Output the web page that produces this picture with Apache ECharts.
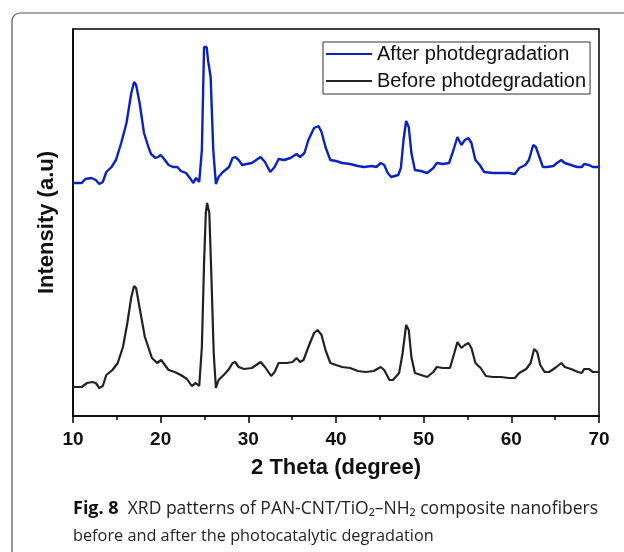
<!DOCTYPE html>
<html>
<head>
<meta charset="utf-8">
<script src="https://cdn.jsdelivr.net/npm/echarts@6/dist/echarts.min.js"></script>
<style>html,body{margin:0;padding:0;background:#fff}#c{width:624px;height:552px}</style>
</head>
<body>
<div id="c"></div>
<script>
const seriesNames = ['After photdegradation', 'Before photdegradation'];
const xTicks = [10, 20, 30, 40, 50, 60, 70];

const afterTheta = [10.0,11.0,11.4,12.1,12.6,13.0,13.4,13.8,14.4,14.9,15.5,16.1,16.65,16.97,17.2,17.6,18.1,18.6,18.9,19.4,19.7,20.0,20.4,20.9,21.4,21.9,22.3,22.9,23.5,23.7,24.05,24.4,24.7,24.95,25.25,25.4,25.6,25.7,25.85,26.0,26.3,26.6,27.1,27.8,28.2,28.5,28.9,29.3,29.8,30.4,30.9,31.4,31.9,32.5,33.0,33.45,34.1,34.8,35.5,35.9,36.4,36.85,37.5,38.0,38.35,38.8,39.35,40.0,40.7,41.6,42.5,43.2,44.1,44.6,45.1,45.5,45.9,46.3,47.1,47.4,47.7,48.0,48.3,48.6,49.0,49.7,50.4,51.1,51.5,52.2,52.9,53.4,53.85,54.3,54.7,55.1,55.45,55.9,56.4,56.9,57.9,58.8,59.7,60.4,60.9,61.6,62.0,62.5,62.8,63.2,63.6,64.1,64.8,65.2,65.7,66.1,66.8,67.5,68.05,68.3,68.85,69.3,70.0];
const afterIntensity = [233,233,237,238,236,232,234,244,249,256,273,293,323,334,331,313,283,269,262,258,259,261,257,251,249,249,245,243,236,233,238,234,266,369,369,356,354,339,339,266,232,239,244,249,258,259,256,251,252,253,256,259,254,244,249,257,256,258,262,259,263,276,288,290,284,269,256,255,253,252,250,249,250,249,253,251,243,239,241,248,276,295,289,263,246,245,243,248,253,252,253,266,279,271,276,278,273,256,251,244,243,243,243,242,248,251,256,271,269,259,249,249,250,253,256,253,251,249,249,252,251,249,249];

const beforeTheta = [10.0,11.0,11.6,12.2,12.6,13.0,13.4,13.8,14.5,15.1,15.7,16.2,16.65,16.97,17.2,17.6,18.2,18.7,19.0,19.6,20.05,20.4,20.9,21.6,22.3,23.0,23.55,24.0,24.4,24.7,24.95,25.15,25.3,25.55,25.8,26.05,26.3,26.6,27.3,27.8,28.2,28.5,28.9,29.5,30.4,30.9,31.4,31.9,32.6,33.0,33.45,34.4,35.05,35.5,35.9,36.3,36.85,37.5,37.9,38.35,38.8,39.35,40.0,40.7,41.6,42.5,43.4,44.3,45.1,45.5,46.1,46.5,47.2,47.6,48.0,48.3,48.6,49.0,49.7,50.4,51.1,51.5,52.2,53.0,53.5,53.85,54.3,54.7,55.1,55.45,55.9,56.5,57.1,57.9,58.8,59.7,60.4,60.9,61.7,62.2,62.6,62.95,63.3,63.8,64.3,65.0,65.7,66.1,66.8,67.6,68.05,68.3,68.85,69.3,70.0];
const beforeIntensity = [29,29,33,34,33,28,30,41,46,53,69,93,119,130,128,108,79,66,58,53,56,52,46,44,41,37,30,33,30,69,153,203,213,203,136,63,28,36,42,47,53,54,49,47,48,51,54,49,40,44,53,53,54,58,54,56,69,83,86,81,66,53,51,49,48,45,44,45,49,46,36,36,43,63,91,86,59,43,41,39,44,49,48,48,63,74,68,71,73,68,53,48,40,39,39,38,38,43,47,53,67,64,51,44,44,48,53,49,47,44,43,47,47,44,44];

function pairs(xs, ys) { return xs.map((x, i) => [x, ys[i]]); }

const blue = '#0a22c4', dark = '#222';
const chart = echarts.init(document.getElementById('c'), null, {renderer: 'canvas'});
chart.setOption({
  animation: false,
  backgroundColor: '#fff',
  grid: {left: 73, right: 25, top: 29, bottom: 136, show: true, borderColor: '#000', borderWidth: 1.5, backgroundColor: 'transparent'},
  legend: {
    orient: 'vertical', left: 323, top: 42,
    padding: [2, 4, 3, 3], itemGap: 7, itemWidth: 46, itemHeight: 2,
    borderColor: '#333', borderWidth: 1, backgroundColor: '#fff',
    icon: 'rect',
    textStyle: {fontFamily: 'Liberation Sans', fontSize: 20, color: '#111', lineHeight: 20},
    data: [
      {name: seriesNames[0], itemStyle: {color: blue}},
      {name: seriesNames[1], itemStyle: {color: dark}}
    ]
  },
  xAxis: {
    type: 'value', min: 10, max: 70, interval: 10,
    name: '2 Theta (degree)', nameLocation: 'middle', nameGap: 41,
    nameTextStyle: {fontFamily: 'Liberation Sans', fontWeight: 'bold', fontSize: 22, color: '#111'},
    axisLine: {show: true, lineStyle: {color: '#000', width: 1.5}},
    axisTick: {show: true, length: 7, lineStyle: {color: '#000', width: 1.5}},
    minorTick: {show: true, splitNumber: 2, length: 4, lineStyle: {color: '#000', width: 1.5}},
    splitLine: {show: false},
    axisLabel: {margin: 14, fontFamily: 'Liberation Sans', fontWeight: 'bold', fontSize: 19, color: '#111',
      formatter: v => xTicks.includes(v) ? String(v) : ''}
  },
  yAxis: {
    type: 'value', min: 0, max: 387,
    name: 'Intensity (a.u)', nameLocation: 'middle', nameGap: 15, nameRotate: 90,
    nameTextStyle: {fontFamily: 'Liberation Sans', fontWeight: 'bold', fontSize: 22, color: '#111'},
    axisLine: {show: true, lineStyle: {color: '#000', width: 1.5}},
    axisTick: {show: false}, axisLabel: {show: false}, splitLine: {show: false}
  },
  series: [
    {name: seriesNames[0], type: 'line', data: pairs(afterTheta, afterIntensity), symbol: 'none',
      lineStyle: {color: blue, width: 2.4}, itemStyle: {color: blue}},
    {name: seriesNames[1], type: 'line', data: pairs(beforeTheta, beforeIntensity), symbol: 'none',
      lineStyle: {color: dark, width: 2.2}, itemStyle: {color: dark}}
  ],
  graphic: [
    {type: 'rect', shape: {x: 12, y: 13, width: 700, height: 600, r: 8}, silent: true,
      style: {fill: 'none', stroke: '#555', lineWidth: 1.2}},
    {type: 'text', left: 73, top: 497, silent: true,
      style: {
        text: '{b|Fig. 8}  XRD patterns of PAN-CNT/TiO₂–NH₂ composite nanofibers',
        fontFamily: 'Open Sans', fontSize: 17.5, lineHeight: 24, fill: '#222',
        rich: {b: {fontFamily: 'Open Sans', fontWeight: 'bold', fontSize: 18, fill: '#111', lineHeight: 24}}
      }},
    {type: 'text', left: 73, top: 524, silent: true,
      style: {
        text: 'before and after the photocatalytic degradation',
        fontFamily: 'Open Sans', fontSize: 16.3, lineHeight: 24, fill: '#222'
      }}
  ]
});
</script>
</body>
</html>
